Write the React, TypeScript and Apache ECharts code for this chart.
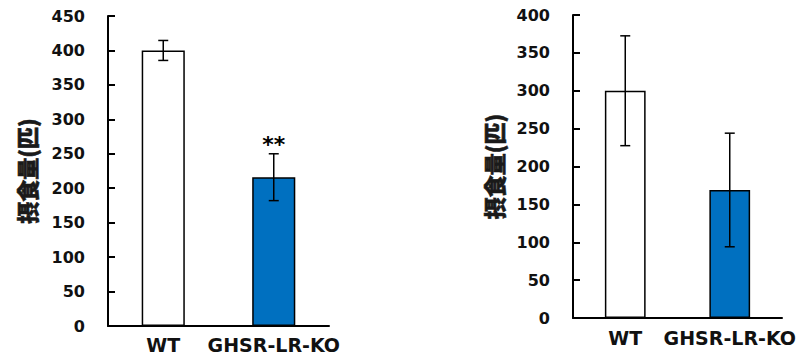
import React, { useEffect, useRef } from "react";
import * as echarts from "echarts";

const categories = ["WT", "GHSR-LR-KO"];
const leftMeans = [400, 216];
const leftErrors = [14.5, 34];
const leftMarks = ["", "**"];
const rightMeans = [300, 169];
const rightErrors = [72.5, 75];
const rightMarks = ["", ""];
const leftTicks = { min: 0, max: 450, interval: 50 };
const rightTicks = { min: 0, max: 400, interval: 50 };
const yName = "摂食量(匹)";
const barColors = ["#FFFFFF", "#0070C0"];

const latin = "'DejaVu Sans', Verdana, sans-serif";
const cjk = "'Noto Sans CJK JP', sans-serif";

function errorSeries(idx: number, means: number[], errs: number[], marks: string[]) {
  return {
    type: "custom",
    xAxisIndex: idx,
    yAxisIndex: idx,
    z: 10,
    data: means.map((m, i) => [i, m, errs[i]]),
    renderItem: (params: any, api: any) => {
      const x = api.value(0);
      const m = api.value(1);
      const e = api.value(2);
      const mark = marks[params.dataIndex];
      const top = api.coord([x, m + e]);
      const bot = api.coord([x, m - e]);
      const cap = 5;
      const st = { stroke: "#000", lineWidth: 1.5 };
      const children: any[] = [
        { type: "line", shape: { x1: top[0], y1: top[1], x2: bot[0], y2: bot[1] }, style: st },
        { type: "line", shape: { x1: top[0] - cap, y1: top[1], x2: top[0] + cap, y2: top[1] }, style: st },
        { type: "line", shape: { x1: bot[0] - cap, y1: bot[1], x2: bot[0] + cap, y2: bot[1] }, style: st },
      ];
      if (mark) {
        children.push({
          type: "text",
          x: top[0],
          y: top[1] + 2,
          style: {
            text: mark,
            fill: "#000",
            font: `bold 22px ${latin}`,
            textAlign: "center",
            textVerticalAlign: "bottom",
          },
        });
      }
      return { type: "group", children };
    },
  };
}

function yAxisFor(idx: number, t: { min: number; max: number; interval: number }, gap: number) {
  return {
    type: "value",
    gridIndex: idx,
    min: t.min,
    max: t.max,
    interval: t.interval,
    name: yName,
    nameLocation: "middle",
    nameGap: gap,
    nameRotate: 90,
    nameTextStyle: {
      fontFamily: cjk,
      fontWeight: 900,
      fontSize: 22,
      color: "#1a1a1a",
      textBorderColor: "#1a1a1a",
      textBorderWidth: 0.6,
    },
    axisLine: { show: true, lineStyle: { color: "#000", width: 2 } },
    axisTick: { show: true, inside: true, length: 7, lineStyle: { color: "#000", width: 2 } },
    axisLabel: { margin: 23, fontFamily: latin, fontWeight: "bold", fontSize: 16, color: "#111" },
    splitLine: { show: false },
  };
}

function xAxisFor(idx: number, margin: number) {
  return {
    type: "category",
    gridIndex: idx,
    data: categories,
    axisLine: { show: true, lineStyle: { color: "#000", width: 2 } },
    axisTick: { show: false },
    axisLabel: { margin, fontFamily: latin, fontWeight: "bold", fontSize: 19, color: "#111", interval: 0 },
  };
}

function barSeries(idx: number, means: number[]) {
  return {
    type: "bar",
    xAxisIndex: idx,
    yAxisIndex: idx,
    barWidth: "39%",
    data: means.map((v, i) => ({
      value: v,
      itemStyle: { color: barColors[i], borderColor: "#000", borderWidth: 1.5 },
    })),
  };
}

export default function App() {
  const ref = useRef<HTMLDivElement>(null);
  useEffect(() => {
    if (!ref.current) return;
    const chart = echarts.init(ref.current, null, { renderer: "svg" });
    chart.setOption({
      animation: false,
      backgroundColor: "#fff",
      grid: [
        { left: 108, right: 471, top: 16, bottom: 28 },
        { left: 573, right: 18, top: 15, bottom: 36 },
      ],
      xAxis: [xAxisFor(0, 9), xAxisFor(1, 10)],
      yAxis: [yAxisFor(0, leftTicks, 71), yAxisFor(1, rightTicks, 69)],
      series: [
        barSeries(0, leftMeans),
        barSeries(1, rightMeans),
        errorSeries(0, leftMeans, leftErrors, leftMarks),
        errorSeries(1, rightMeans, rightErrors, rightMarks),
      ],
    });
    return () => chart.dispose();
  }, []);
  return <div ref={ref} style={{ width: 800, height: 354, position: "absolute", left: 0, top: 0 }} />;
}
